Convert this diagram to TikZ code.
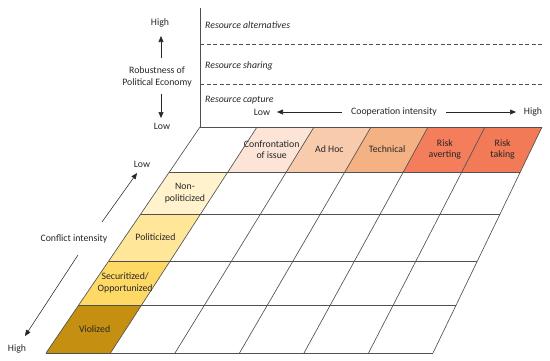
\documentclass[tikz,border=0pt]{standalone}
\usepackage{fontspec}
\setmainfont{Carlito}
\usetikzlibrary{arrows.meta,calc}
\definecolor{confront}{HTML}{FCE4D6}
\definecolor{adhoc}{HTML}{F8CBAD}
\definecolor{technical}{HTML}{F4B183}
\definecolor{riskavert}{HTML}{F47E5B}
\definecolor{risktake}{HTML}{F27A56}
\definecolor{nonpol}{HTML}{FFF2CC}
\definecolor{politic}{HTML}{FFE699}
\definecolor{securit}{HTML}{FFD966}
\definecolor{violiz}{HTML}{C59012}
\definecolor{gridgray}{HTML}{505050}
\tikzset{
  gridline/.style={draw=gridgray, line width=0.65pt},
  levelline/.style={draw=gridgray, line width=0.65pt, dash pattern=on 4pt off 2.5pt},
  axisarrow/.style={-{Triangle[length=6pt,width=5pt]}, line width=0.55pt, black!85},
  lbl/.style={font=\fontsize{9.8}{11.5}\selectfont, align=center, inner sep=1pt, text=black!85},
  level/.style={font=\fontsize{9.8}{11.5}\selectfont\itshape, anchor=west, inner sep=0pt, text=black!85}
}
\begin{document}
\begin{tikzpicture}[x=1pt,y=-1pt]
  \useasboundingbox (0,0) rectangle (550,360);
  % grid corners, row by row
  \foreach \j/\yy in {0/127,1/172,2/214,3/261,4/305,5/353}
    \foreach \i in {0,...,6}
      \coordinate (p\i-\j) at ({(1-(\yy-127)/226)*(200+57*\i)+((\yy-127)/226)*(46+64.5*\i)}, \yy);
  % coloured cells
  \foreach \i/\k/\c in {1/2/confront,2/3/adhoc,3/4/technical,4/5/riskavert,5/6/risktake}
    \fill[\c] (p\i-0) -- (p\k-0) -- (p\k-1) -- (p\i-1) -- cycle;
  \foreach \j/\k/\c in {1/2/nonpol,2/3/politic,3/4/securit,4/5/violiz}
    \fill[\c] (p0-\j) -- (p1-\j) -- (p1-\k) -- (p0-\k) -- cycle;
  % grid
  \foreach \j in {0,...,5}
    \draw[gridline] (p0-\j) -- (p6-\j);
  \foreach \i in {0,...,6}
    \draw[gridline] (p\i-0) -- (p\i-5);
  % cell labels
  \node[lbl] (confrontation) at ($(p1-0)!0.5!(p2-1)$) {Confrontation\\of issue};
  \node[lbl] (adhoc) at ($(p2-0)!0.5!(p3-1)$) {Ad Hoc};
  \node[lbl] (technical) at ($(p3-0)!0.5!(p4-1)$) {Technical};
  \node[lbl] (riskaverting) at ($(p4-0)!0.5!(p5-1)$) {Risk\\averting};
  \node[lbl] (risktaking) at ($(p5-0)!0.5!(p6-1)$) {Risk\\taking};
  \node[lbl] (nonpoliticized) at ($(p0-1)!0.5!(p1-2)$) {Non-\\politicized};
  \node[lbl] (politicized) at ($(p0-2)!0.5!(p1-3)$) {Politicized};
  \node[lbl] (securitized) at ($(p0-3)!0.5!(p1-4)$) {Securitized/\\Opportunized};
  \node[lbl] (violized) at ($(p0-4)!0.5!(p1-5)$) {Violized};
  % political economy levels
  \coordinate (vtop) at (200,8);
  \coordinate (dashA) at (200,44);
  \coordinate (dashAend) at (543,44);
  \coordinate (dashB) at (200,84);
  \coordinate (dashBend) at (543,84);
  \draw[gridline] (vtop) -- (p0-0);
  \draw[levelline] (dashA) -- (dashAend);
  \draw[levelline] (dashB) -- (dashBend);
  \node[level] (alternatives) at (205,25) {Resource alternatives};
  \node[level] (sharing) at (205,66) {Resource sharing};
  \node[level] (capture) at (205,100) {Resource capture};
  % robustness axis
  \node[lbl] (robhigh) at (160,23) {High};
  \node[lbl] (robustness) at (157,77) {Robustness of\\Political Economy};
  \node[lbl] (roblow) at (162,126) {Low};
  \coordinate (robupA) at (161,58);
  \coordinate (robupB) at (161,36);
  \coordinate (robdnA) at (161,94);
  \coordinate (robdnB) at (161,118);
  \draw[axisarrow] (robupA) -- (robupB);
  \draw[axisarrow] (robdnA) -- (robdnB);
  % cooperation axis
  \node[lbl] (cooplow) at (262,112) {Low};
  \node[lbl] (cooperation) at (394,112) {Cooperation intensity};
  \node[lbl] (coophigh) at (533,112) {High};
  \coordinate (coopL) at (277,112);
  \coordinate (coopR) at (516,112);
  \draw[axisarrow, shorten <=8pt] (cooperation.west) -- (coopL);
  \draw[axisarrow, shorten <=8pt] (cooperation.east) -- (coopR);
  % conflict axis
  \node[lbl] (conflow) at (142,164) {Low};
  \node[lbl] (conflict) at (74,239) {Conflict intensity};
  \node[lbl] (confhigh) at (17,349) {High};
  \coordinate (confupA) at (102,222);
  \coordinate (confupB) at (137,173);
  \coordinate (confdnA) at (78,255);
  \coordinate (confdnB) at (25,336);
  \draw[axisarrow] (confupA) -- (confupB);
  \draw[axisarrow] (confdnA) -- (confdnB);
\end{tikzpicture}
\end{document}
